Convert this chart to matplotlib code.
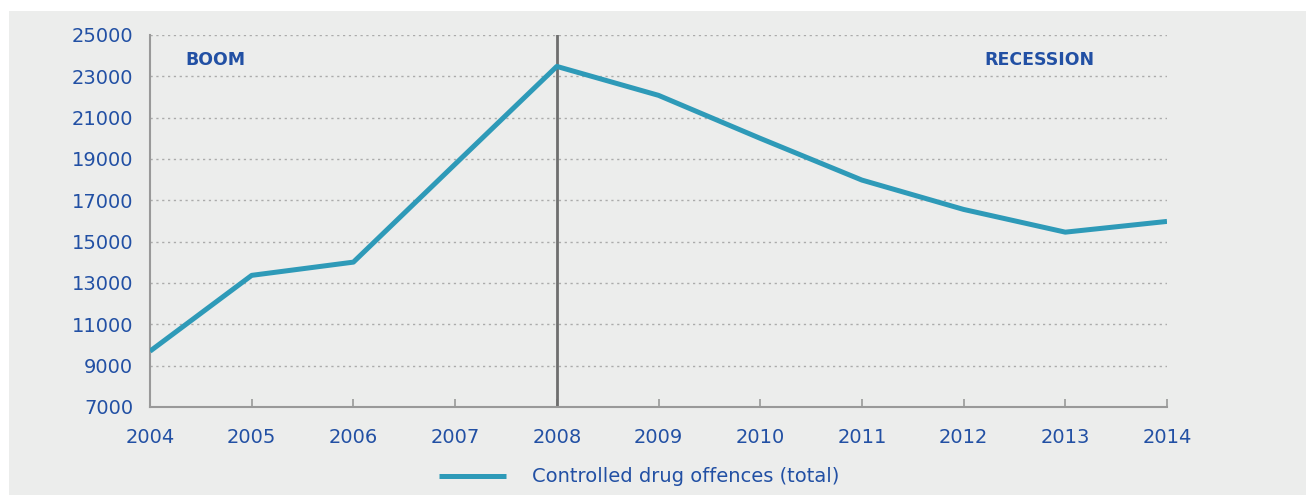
import matplotlib.pyplot as plt
from matplotlib.patches import Rectangle

# Data
years = [2004, 2005, 2006, 2007, 2008, 2009, 2010, 2011, 2012, 2013, 2014]
offences = [9700, 13370, 14010, 18750, 23480, 22080, 20000, 17980, 16560, 15460, 15980]
y_ticks = [7000, 9000, 11000, 13000, 15000, 17000, 19000, 21000, 23000, 25000]
series_label = 'Controlled drug offences (total)'
period_labels = ['BOOM', 'RECESSION']

blue_text = '#2250A4'
line_col = '#2E9AB8'
bg = '#ECEDEC'

plt.rcParams['font.family'] = ['DejaVu Sans']

fig = plt.figure(figsize=(13.06, 4.95), dpi=100)
fig.patches.append(Rectangle((9/1306, 0), 1 - 9/1306, 1 - 11/495,
                             transform=fig.transFigure, facecolor=bg,
                             edgecolor='none', zorder=-10))

ax = fig.add_axes([150/1306, 1 - 407/495, (1167-150)/1306, (407-35)/495])
ax.set_facecolor('none')

ax.plot(years, offences, color=line_col, lw=3.6, solid_capstyle='butt',
        label=series_label, zorder=3)
ax.axvline(2008, color='#6E6E6E', lw=2, zorder=2)

ax.set_xlim(2004, 2014)
ax.set_ylim(7000, 25000)
ax.set_xticks(years)
ax.set_yticks(y_ticks)
ax.grid(axis='y', color='#ABABAB', linestyle=(0, (1.6, 2.6)), lw=1.0)
ax.set_axisbelow(True)

for s in ['top', 'right']:
    ax.spines[s].set_visible(False)
for s in ['left', 'bottom']:
    ax.spines[s].set_color('#999999')
    ax.spines[s].set_linewidth(1.5)

ax.tick_params(axis='x', direction='in', length=6, width=1.2, color='#999999',
               labelsize=14, labelcolor=blue_text, pad=15)
ax.tick_params(axis='y', length=0, labelsize=14, labelcolor=blue_text, pad=12)

ax.text(2004.35, 23790, period_labels[0], color=blue_text, fontsize=12.5,
        fontweight='bold', va='center', ha='left')
ax.text(2012.2, 23790, period_labels[1], color=blue_text, fontsize=12.5,
        fontweight='bold', va='center', ha='left')

leg = ax.legend(loc='center', bbox_to_anchor=(0.481, -0.188), frameon=False,
                fontsize=14, handlelength=3.45, handletextpad=1.3)
for t in leg.get_texts():
    t.set_color(blue_text)

fig.savefig('out.png', dpi=100)
